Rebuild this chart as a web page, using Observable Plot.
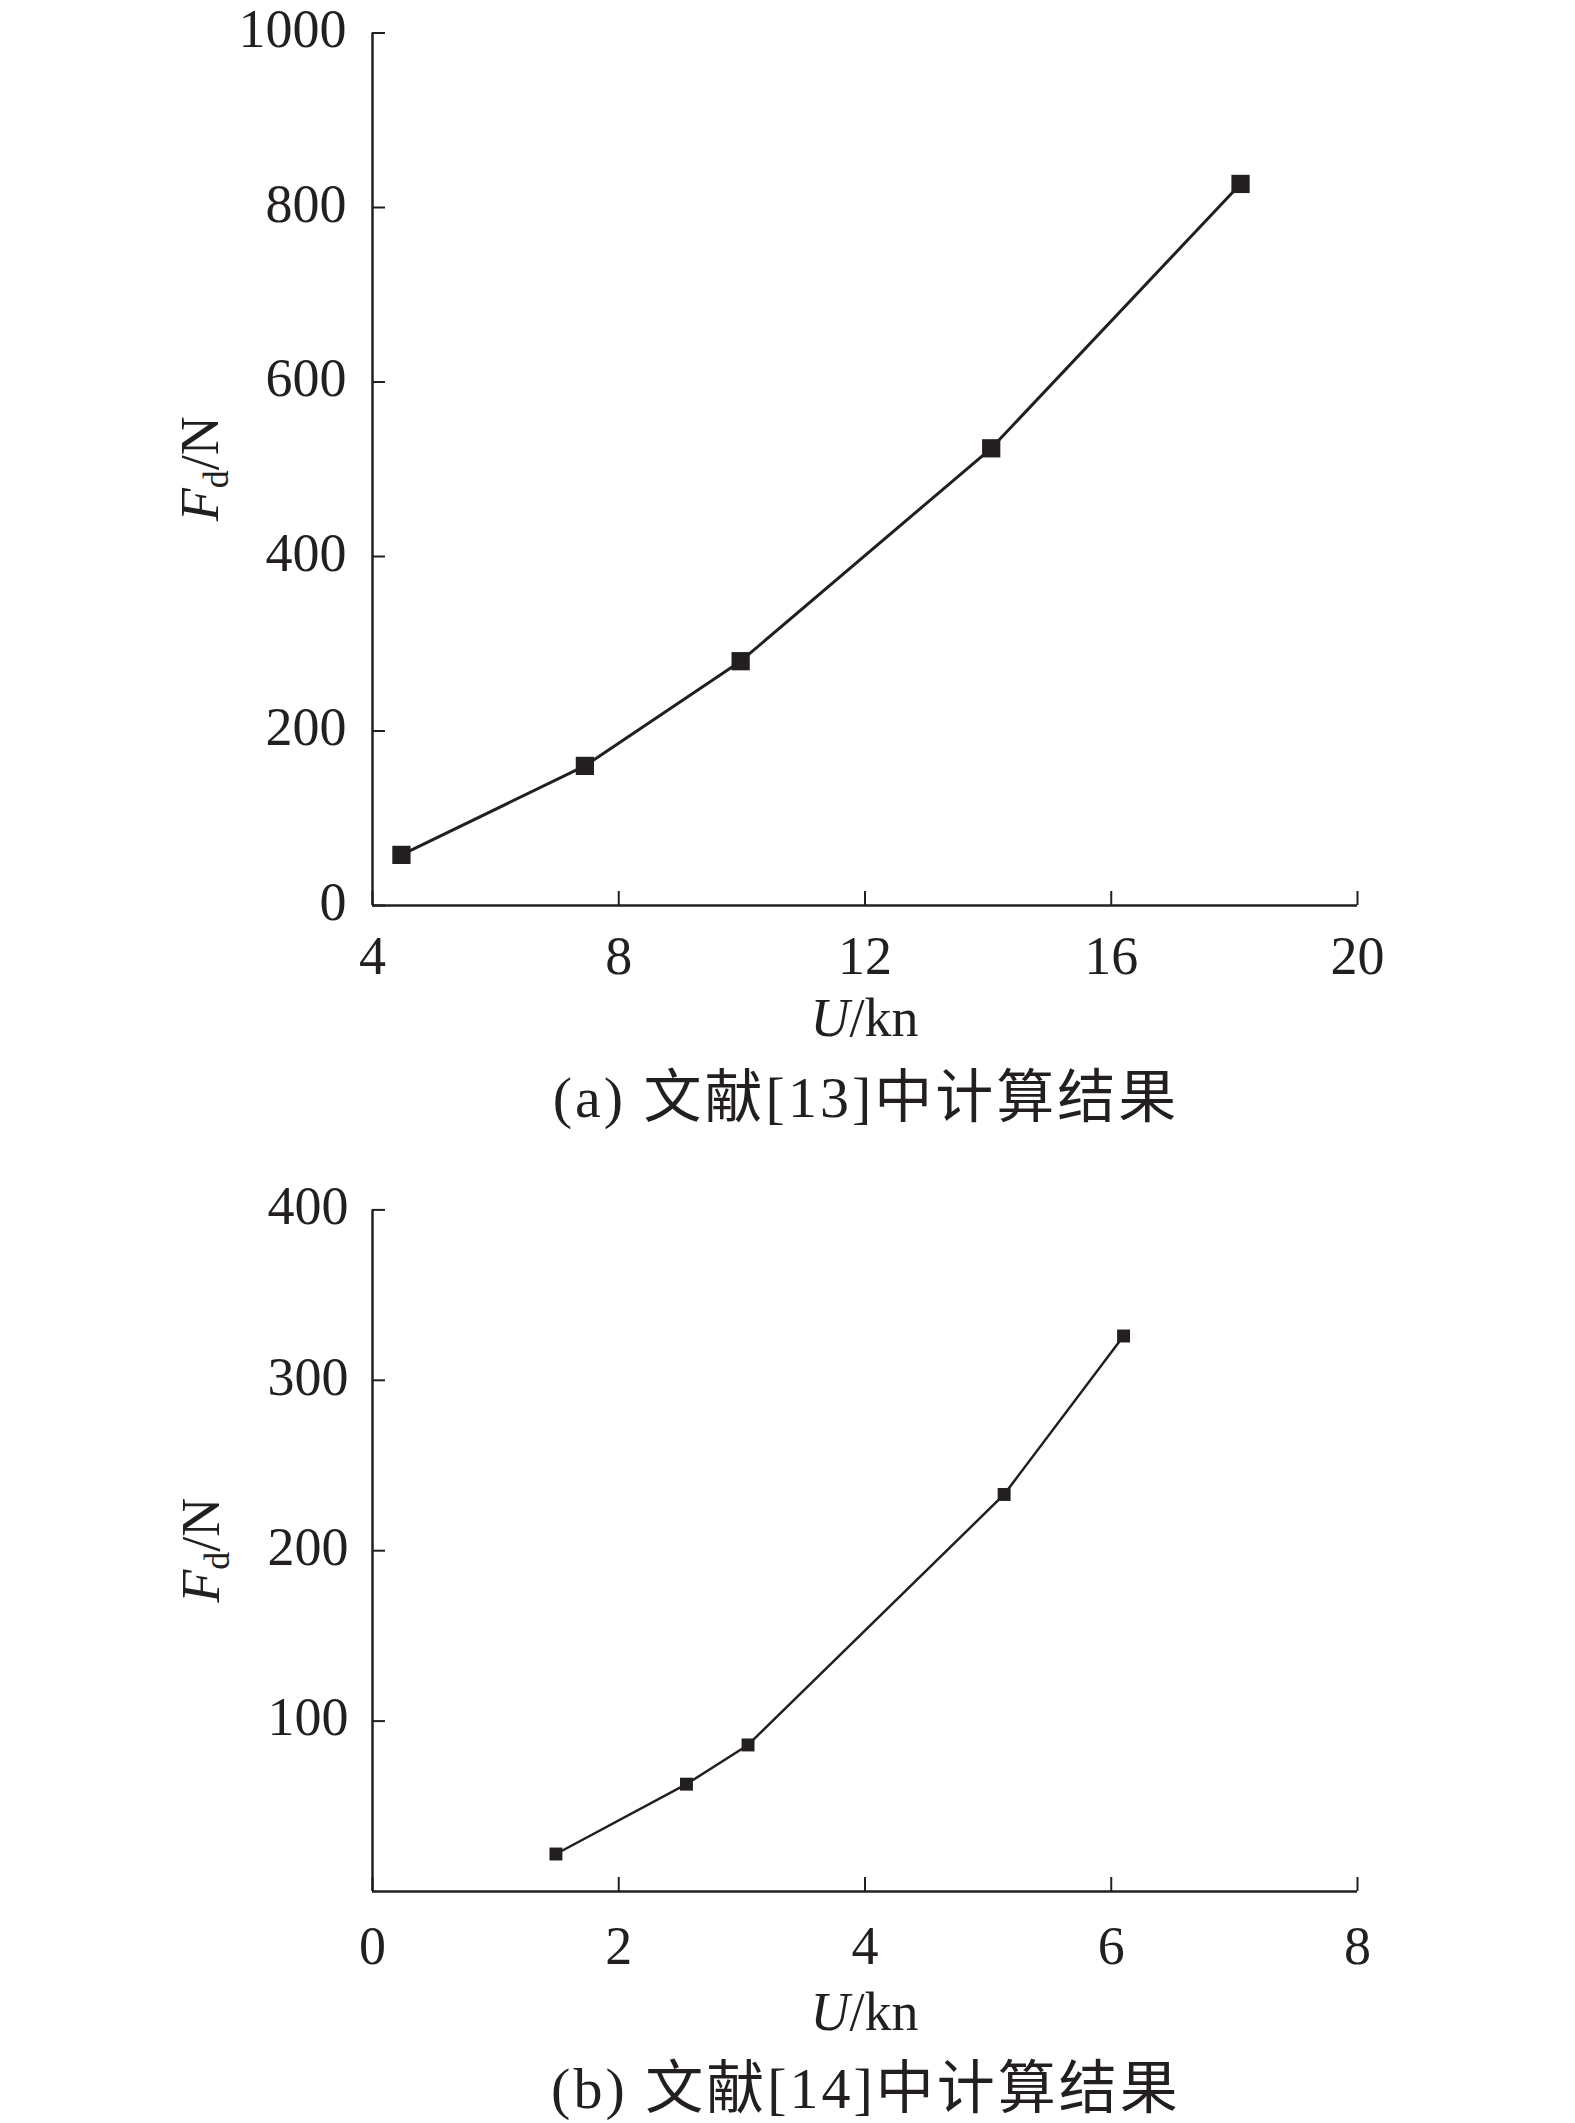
<!DOCTYPE html>
<html><head><meta charset="utf-8">
<script src="https://cdn.jsdelivr.net/npm/d3@7"></script>
<script src="https://cdn.jsdelivr.net/npm/@observablehq/plot@0.6"></script>
<style>
html,body{margin:0;padding:0;background:#fff;}
#root{width:1575px;}
#root svg{display:block;}
</style></head><body><div id="root"></div>
<script>
// ---- data ----
const uA = [4.47, 7.45, 9.98, 14.05, 18.1];
const fA = [58, 160, 280, 524, 827];
const xTicksA = [4, 8, 12, 16, 20];
const yTicksA = [0, 200, 400, 600, 800, 1000];

const uB = [1.49, 2.55, 3.05, 5.13, 6.10];
const fB = [22, 63, 86, 233, 326];
const xTicksB = [0, 2, 4, 6, 8];
const yTicksB = [100, 200, 300, 400];

const xLabelParts = ["U", "/kn"];
const yLabelParts = ["F", "d", "/N"];
const captionA = "(a) 文献[13]中计算结果";
const captionB = "(b) 文献[14]中计算结果";

const INK = "#231f20";
const SERIF = "'Liberation Serif', 'Times New Roman', 'Noto Sans CJK SC', serif";

function panel(cfg) {
  const rows = cfg.u.map((u, i) => ({u, f: cfg.f[i]}));
  const frameW = cfg.width - cfg.ml - cfg.mr;
  const frameH = cfg.height - cfg.mt - cfg.mb;
  const chart = Plot.plot({
    width: cfg.width, height: cfg.height,
    marginLeft: cfg.ml, marginRight: cfg.mr, marginTop: cfg.mt, marginBottom: cfg.mb,
    style: {fontFamily: SERIF, fontSize: "54px", color: INK, background: "#fff", overflow: "visible"},
    x: {domain: cfg.xDomain, label: null},
    y: {domain: cfg.yDomain, label: null},
    marks: [
      Plot.ruleY([cfg.yDomain[0]], {stroke: INK, strokeWidth: 2.5}),
      Plot.ruleX([cfg.xDomain[0]], {stroke: INK, strokeWidth: 2.5}),
      Plot.tickX(cfg.xTicks, {x: d => d, stroke: INK, strokeWidth: 2, insetTop: frameH - 14}),
      Plot.tickY(cfg.yTicks, {y: d => d, stroke: INK, strokeWidth: 2, insetRight: frameW - 13}),
      Plot.axisX({ticks: cfg.xTicks, tickSize: 0, tickPadding: cfg.xPad, label: null,
                  fontSize: 54, fill: INK, tickFormat: d => String(d)}),
      Plot.axisY({ticks: cfg.yLabelTicks, tickSize: 0, tickPadding: cfg.yPad, label: null,
                  fontSize: 54, fill: INK, dy: -3, tickFormat: d => String(d)}),
      Plot.line(rows, {x: "u", y: "f", stroke: INK, strokeWidth: cfg.lw}),
      Plot.dot(rows, {x: "u", y: "f", symbol: "square", r: cfg.r, fill: INK, stroke: "none"})
    ]
  });
  const svg = d3.select(chart);
  const cx = (cfg.ml + cfg.width - cfg.mr) / 2;
  const cy = (cfg.mt + cfg.height - cfg.mb) / 2;
  // x axis label
  const xl = svg.append("text")
    .attr("x", cx).attr("y", cfg.xLabelY)
    .attr("text-anchor", "middle")
    .attr("font-family", SERIF).attr("font-size", 54).attr("fill", INK);
  xl.append("tspan").attr("font-style", "italic").text(xLabelParts[0]);
  xl.append("tspan").text(xLabelParts[1]);
  // y axis label
  const yl = svg.append("text")
    .attr("transform", `translate(${cfg.yLabelX},${cy}) rotate(-90)`)
    .attr("text-anchor", "middle")
    .attr("font-family", SERIF).attr("font-size", 54).attr("fill", INK);
  yl.append("tspan").attr("font-style", "italic").text(yLabelParts[0]);
  yl.append("tspan").attr("font-size", 36).attr("dy", 10).text(yLabelParts[1]);
  yl.append("tspan").attr("dy", -10).text(yLabelParts[2]);
  // caption
  svg.append("text")
    .attr("x", cx + 1.5).attr("y", cfg.captionY)
    .attr("text-anchor", "middle")
    .attr("font-family", SERIF).attr("font-size", 58).attr("letter-spacing", 3).attr("fill", INK)
    .text(cfg.caption);
  return chart;
}

const root = document.getElementById("root");
root.appendChild(panel({
  u: uA, f: fA, xTicks: xTicksA, yTicks: yTicksA, yLabelTicks: yTicksA,
  xDomain: [4, 20], yDomain: [0, 1000],
  width: 1575, height: 1150, ml: 372, mr: 218, mt: 32.5, mb: 245,
  xPad: 30, yPad: 26, lw: 3, r: 10.3,
  xLabelY: 1036, yLabelX: 218, captionY: 1117, caption: captionA
}));
root.appendChild(panel({
  u: uB, f: fB, xTicks: xTicksB, yTicks: yTicksB, yLabelTicks: yTicksB,
  xDomain: [0, 8], yDomain: [0, 400],
  width: 1575, height: 973, ml: 372, mr: 218, mt: 59.4, mb: 232,
  xPad: 34, yPad: 24, lw: 2.5, r: 7.3,
  xLabelY: 880, yLabelX: 219, captionY: 958, caption: captionB
}));
</script>
</body></html>
